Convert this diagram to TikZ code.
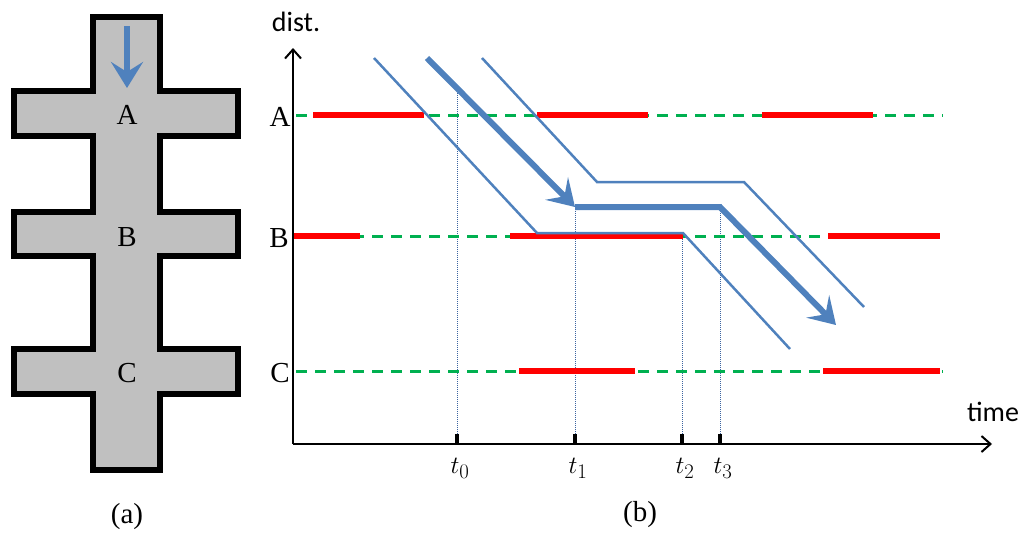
\documentclass[tikz,border=0pt]{standalone}
\usepackage{fontspec}
\setmainfont{Liberation Serif}
\newfontfamily\calibri{Carlito}
\usetikzlibrary{arrows.meta}
\definecolor{azul}{RGB}{79,129,189}
\definecolor{rojo}{RGB}{255,0,0}
\definecolor{verde}{RGB}{0,176,80}
\definecolor{relleno}{RGB}{192,192,192}
\definecolor{guiacol}{RGB}{60,100,160}

\begin{document}
\begin{tikzpicture}[x=1pt,y=-1pt,
wall/.style={draw=black,line width=6pt,fill=relleno,line join=miter},
lbl/.style={font=\fontsize{29}{32}\selectfont,inner sep=0pt},
sans/.style={font=\calibri\fontsize{28}{30}\selectfont,inner sep=0pt},
eje/.style={line width=2pt,-{Straight Barb[length=9pt,width=16pt]}},
ocupado/.style={draw=rojo,line width=6pt},
libre/.style={draw=verde,line width=3pt,dash pattern=on 11pt off 8pt},
tray/.style={draw=azul,line width=2.5pt},
flecha/.style={draw=azul,line width=6pt,line join=miter,-{Stealth[length=26pt,width=32pt,inset=11pt]}},
guia/.style={draw=guiacol,line width=1pt,densely dotted},
marca/.style={line width=3.5pt}
]
\useasboundingbox (0,0) rectangle (1026,533);

% (a) corridor
\draw[wall] (93,17) -- (160,17) -- (160,91) -- (238,91) -- (238,136) -- (160,136)
  -- (160,212) -- (238,212) -- (238,256) -- (160,256) -- (160,349) -- (238,349)
  -- (238,394) -- (160,394) -- (160,470) -- (93,470) -- (93,394) -- (14,394)
  -- (14,349) -- (93,349) -- (93,256) -- (14,256) -- (14,212) -- (93,212)
  -- (93,136) -- (14,136) -- (14,91) -- (93,91) -- cycle;
\coordinate (in0) at (127,26);
\coordinate (in1) at (127,88);
\draw[azul,line width=5.5pt,-{Stealth[length=26pt,width=32pt,inset=10pt]}] (in0) -- (in1);
\node[lbl] (pa) at (127,115) {A};
\node[lbl] (pb) at (127,237) {B};
\node[lbl] (pc) at (127,373) {C};
\node[lbl] (capa) at (127,517) {(a)};

% (b) axes
\coordinate (o) at (293,444);
\coordinate (ytop) at (293,48);
\coordinate (xend) at (992,444);
\node[sans] (dist) at (296,22) {dist.};
\node[sans] (time) at (993,412) {time};
\node[lbl] (la) at (280,117) {A};
\node[lbl] (lb) at (279,238) {B};
\node[lbl] (lc) at (280,373) {C};

% guides
\foreach \x/\y/\n in {457/90/0,575/207/1,682/236/2,720/207/3}{
  \coordinate (g\n) at (\x,\y);
  \coordinate (b\n) at (\x,444);
  \draw[guia] (b\n) -- (g\n);
  \draw[marca] (\x,434) -- (b\n);
  \node[font=\fontsize{30}{32}\selectfont,inner sep=0pt] (t\n) at (\x+3,468) {$t_{\n}$};
}

% free / occupied
\foreach \y/\a/\b in {115/296/943,236/296/828,371/296/943}
  \draw[libre] (\a,\y) -- (\b,\y);
\foreach \y/\a/\b in {115/313/424,115/537/648,115/762/873,
                      236/294/360,236/510/683,236/828/940,
                      371/519/635,371/823/940}
  \draw[ocupado] (\a,\y) -- (\b,\y);

\draw[eje] (o) -- (ytop);
\draw[eje] (o) -- (xend);

% trajectories
\coordinate (p0) at (374,58);
\coordinate (p1) at (537,233);
\coordinate (p2) at (683,233);
\coordinate (p3) at (790,349);
\draw[tray] (p0) -- (p1) -- (p2) -- (p3);
\coordinate (q0) at (482,58);
\coordinate (q1) at (597,182);
\coordinate (q2) at (744,182);
\coordinate (q3) at (864,307);
\draw[tray] (q0) -- (q1) -- (q2) -- (q3);
\coordinate (r0) at (427,58);
\coordinate (r1) at (575,207);
\coordinate (r2) at (720,207);
\coordinate (r3) at (836,325);
\draw[flecha] (r0) -- (r1);
\draw[flecha] (r1) -- (r2) -- (r3);

\node[lbl] (capb) at (640,515) {(b)};
\end{tikzpicture}
\end{document}
